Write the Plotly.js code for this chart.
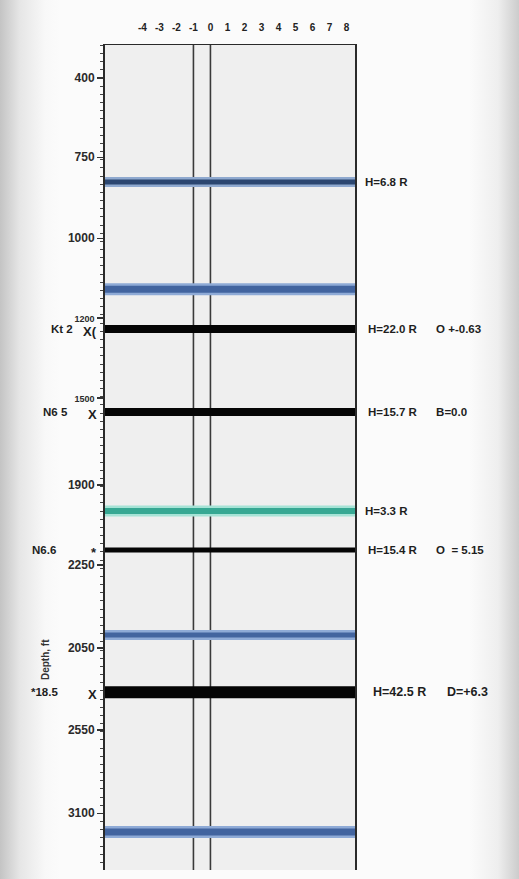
<!DOCTYPE html>
<html>
<head>
<meta charset="utf-8">
<script src="https://cdn.plot.ly/plotly-3.0.1.min.js"></script>
<style>
  html, body { margin: 0; padding: 0; }
  body {
    width: 519px; height: 879px; overflow: hidden;
    background: linear-gradient(to right, #c4c4c4 0px, #e6e6e6 20px, #f8f8f8 45px, #fbfbfb 60px, #fbfbfb 470px, #eeeeee 498px, #cccccc 519px);
  }
  #chart { width: 519px; height: 879px; }
</style>
</head>
<body>
<div id="chart"></div>
<script>
// ---- data ----
const xTickVals = [-4, -3, -2, -1, 0, 1, 2, 3, 4, 5, 6, 7, 8];
const xTickText = ['-4', '-3', '-2', '-1', '0', '1', '2', '3', '4', '5', '6', '7', '8'];
const yTickVals = [400, 642, 890, 1134, 1379, 1645, 1890, 2144, 2395, 2649];
const yTickText = ['400', '750', '1000', '1200', '1500', '1900', '2250', '2050', '2550', '3100'];
const referenceLines = [-1, 0];
const bandDepths = [718, 1046, 1168, 1422, 1725, 1844, 2104, 2279, 2707];
const bandKinds = ['navy', 'blue', 'black', 'black', 'teal', 'black', 'blue', 'black', 'blue'];
const bandLabels = ['H=6.8 R', '', 'H=22.0 R  O +-0.63', 'H=15.7 R  B=0.0', 'H=3.3 R',
                    'H=15.4 R  O = 5.15', '', 'H=42.5 R  D=+6.3', ''];
const leftCodes = ['', '', 'Kt 2', 'N6 5', '', 'N6.6', '', '*18.5', ''];
const leftMarks = ['', '', 'X(', 'X', '', '*', '', 'X', ''];

// ---- styling ----
const xRange = [-6.2, 8.5];
const yRange = [2823, 299];
const bandWidths = [8, 10, 8, 8, 9, 5, 8, 12, 10];
const leftCodeX = [0, 0, -0.12, -0.14, 0, -0.19, 0, -0.18, 0];
const rightLabelX = [1.03, 0, 1.045, 1.045, 1.03, 1.045, 0, 1.065, 0];
const rightLabelSize = [11.5, 0, 11.5, 11.5, 11.5, 11.5, 0, 12.5, 0];
const smallTicks = ['1200', '1500'];
const kindStyle = {
  navy:  { outer: '#8fa9cf', inner: '#2b4670' },
  blue:  { outer: '#8eaad6', inner: '#42649f' },
  teal:  { outer: '#a6e3d6', inner: '#37a893' },
  black: { outer: null, inner: '#050505' }
};
const FAM = 'Liberation Sans, Arial, sans-serif';
const labelFont = { family: FAM, size: 11.5, color: '#1e1e1e', weight: 'bold' };

// widen the gaps between the label groups as the reference does
function spaced(s) {
  return s.replace(/ {2,}/g, m => '&nbsp;'.repeat(m.length * 3))
          .replace(/ = /g, '&nbsp;&nbsp;=&nbsp;');
}

const traces = [];
referenceLines.forEach(v => {
  traces.push({ x: [v, v], y: yRange, mode: 'lines', type: 'scatter', hoverinfo: 'skip',
                line: { color: '#3a3a3a', width: 1.6 }, showlegend: false });
});
bandDepths.forEach((d, i) => {
  const st = kindStyle[bandKinds[i]];
  const w = bandWidths[i];
  if (st.outer) {
    traces.push({ x: xRange, y: [d, d], mode: 'lines', type: 'scatter', hoverinfo: 'skip',
                  line: { color: st.outer, width: w + 2 }, showlegend: false });
    traces.push({ x: xRange, y: [d, d], mode: 'lines', type: 'scatter', hoverinfo: 'skip',
                  line: { color: st.inner, width: Math.max(w - 3, 2) }, showlegend: false });
  } else {
    traces.push({ x: xRange, y: [d, d], mode: 'lines', type: 'scatter', hoverinfo: 'skip',
                  line: { color: st.inner, width: w }, showlegend: false });
  }
});

const annotations = [];
bandDepths.forEach((d, i) => {
  if (bandLabels[i]) annotations.push({ xref: 'paper', yref: 'y', x: rightLabelX[i], y: d, xanchor: 'left',
    yanchor: 'middle', text: spaced(bandLabels[i]), showarrow: false,
    font: Object.assign({}, labelFont, { size: rightLabelSize[i] }) });
  if (leftCodes[i]) annotations.push({ xref: 'paper', yref: 'y', x: leftCodeX[i], y: d, xanchor: 'right',
    yanchor: 'middle', text: leftCodes[i], showarrow: false, font: labelFont });
  if (leftMarks[i]) annotations.push({ xref: 'paper', yref: 'y', x: -0.025, y: d, xanchor: 'right',
    yanchor: 'middle', yshift: -2, text: leftMarks[i], showarrow: false,
    font: { family: FAM, size: 13, color: '#1e1e1e', weight: 'bold' } });
});
annotations.push({ xref: 'paper', yref: 'y', x: -0.265, y: 2180, text: 'Depth, ft', textangle: -90,
  showarrow: false, font: { family: FAM, size: 10, color: '#333', weight: 'bold' } });

const yTickShown = yTickText.map(t => smallTicks.includes(t)
  ? '<span style="font-size:9px">' + t + '</span>' : t);

const layout = {
  width: 519, height: 879,
  margin: { l: 105, r: 164, t: 45, b: 9 },
  paper_bgcolor: 'rgba(0,0,0,0)',
  plot_bgcolor: '#efefef',
  showlegend: false,
  xaxis: {
    range: xRange, side: 'top', tickmode: 'array', tickvals: xTickVals, ticktext: xTickText,
    ticks: 'outside', ticklen: 9, tickcolor: 'rgba(0,0,0,0)',
    showgrid: false, zeroline: false, showline: true, linecolor: '#2a2a2a', linewidth: 1.5,
    tickfont: { family: FAM, size: 10, color: '#222', weight: 'bold' }, fixedrange: true
  },
  yaxis: {
    range: yRange, tickmode: 'array', tickvals: yTickVals, ticktext: yTickShown,
    ticks: 'outside', ticklen: 6, tickwidth: 1.2, tickcolor: '#333',
    minor: { dtick: 25, tick0: 400, ticks: 'outside', ticklen: 3, tickcolor: '#444', tickwidth: 1 },
    showgrid: false, zeroline: false, showline: true, mirror: true,
    linecolor: '#2a2a2a', linewidth: 2,
    tickfont: { family: FAM, size: 12, color: '#2a2a2a', weight: 'bold' }, fixedrange: true
  },
  annotations: annotations
};

Plotly.newPlot('chart', traces, layout, { displayModeBar: false, staticPlot: true });
</script>
</body>
</html>
